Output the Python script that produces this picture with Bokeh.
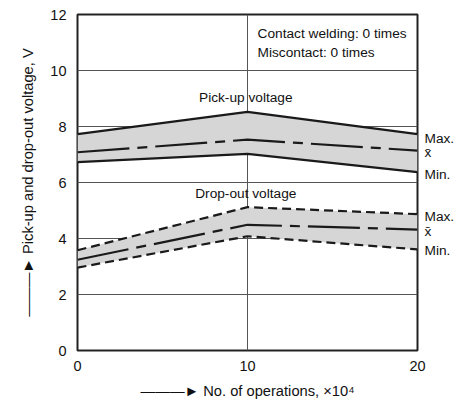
from bokeh.plotting import figure
from bokeh.models import Label, Range1d, FixedTicker, ColumnDataSource, LinearAxis
from bokeh.embed import file_html
from bokeh.resources import INLINE

ops = [0, 10, 20]
pick_max = [7.73, 8.52, 7.73]
pick_mean = [7.08, 7.53, 7.14]
pick_min = [6.73, 7.02, 6.37]
drop_max = [3.58, 5.12, 4.87]
drop_mean = [3.24, 4.49, 4.32]
drop_min = [2.96, 4.08, 3.61]
x_ticks = [0, 10, 20]
y_ticks = [0, 2, 4, 6, 8, 10, 12]
side_ticks = [7.58, 7.06, 6.28, 4.8, 4.26, 3.56]
side_labels = ["Max.", "x\u0304", "Min.", "Max.", "x\u0304", "Min."]

FONT = "Liberation Sans"

p = figure(width=463, height=401, output_backend="svg", toolbar_location=None,
           x_range=Range1d(0, 20), y_range=Range1d(0, 12),
           min_border_left=77, min_border_right=46, min_border_top=14, min_border_bottom=47)
p.outline_line_color = "#222222"
p.outline_line_width = 2
p.background_fill_color = "white"

# grid
p.xgrid.ticker = FixedTicker(ticks=[10])
p.ygrid.ticker = FixedTicker(ticks=[2, 4, 6, 8, 10])
p.xgrid.grid_line_color = "#555555"
p.ygrid.grid_line_color = "#555555"
p.xgrid.grid_line_width = 1
p.ygrid.grid_line_width = 1

right = LinearAxis(ticker=FixedTicker(ticks=side_ticks),
                   major_label_overrides={t: s for t, s in zip(side_ticks, side_labels)})
p.add_layout(right, "right")

for ax in (p.xaxis[0], p.yaxis[0], right):
    ax.axis_line_color = None
    ax.major_tick_line_color = None
    ax.minor_tick_line_color = None
    ax.major_label_text_font = FONT
    ax.major_label_text_font_size = "14.5px"
    ax.major_label_text_color = "#111111"
    ax.axis_label_text_font = FONT
    ax.axis_label_text_font_size = "14.7px"
    ax.axis_label_text_font_style = "normal"
    ax.axis_label_text_color = "#111111"
p.xaxis.ticker = FixedTicker(ticks=x_ticks)
p.yaxis[0].ticker = FixedTicker(ticks=y_ticks)
p.xaxis.major_label_standoff = 4
p.yaxis[0].major_label_standoff = 5
right.major_label_standoff = 1
right.major_label_text_font_size = "13.7px"

ARROW = "\u2014\u2014\u2014\u25ba "
p.xaxis.axis_label = ARROW + "No. of operations, \u00d710\u2074"
p.xaxis.axis_label_standoff = 9
p.yaxis[0].axis_label = ARROW + "Pick-up and drop-out voltage, V"
p.yaxis[0].axis_label_standoff = 11

src = ColumnDataSource(dict(x=ops, pmax=pick_max, pmean=pick_mean, pmin=pick_min,
                            dmax=drop_max, dmean=drop_mean, dmin=drop_min))

p.varea(x="x", y1="pmin", y2="pmax", source=src, fill_color="#d6d6d6")
p.varea(x="x", y1="dmin", y2="dmax", source=src, fill_color="#d6d6d6")

LC = "#1a1a1a"
p.line("x", "pmax", source=src, line_color=LC, line_width=2.2)
p.line("x", "pmin", source=src, line_color=LC, line_width=2.2)
p.line("x", "pmean", source=src, line_color=LC, line_width=2.2, line_dash="52 8 10 8")
p.line("x", "dmax", source=src, line_color=LC, line_width=2.2, line_dash="9 5")
p.line("x", "dmin", source=src, line_color=LC, line_width=2.2, line_dash="9 5")
p.line("x", "dmean", source=src, line_color=LC, line_width=2.2, line_dash="52 8 10 8")

def lab(x, y, text, align="left"):
    p.add_layout(Label(x=x, y=y, text=text, text_font=FONT, text_font_size="13.7px",
                       text_align=align, text_baseline="middle", text_color="#111111"))

lab(9.9, 9.03, "Pick-up voltage", align="center")
lab(9.9, 5.62, "Drop-out voltage", align="center")
lab(10.59, 11.33, "Contact welding: 0 times")
lab(10.59, 10.66, "Miscontact: 0 times")

open("out.html", "w").write(file_html(p, INLINE))
